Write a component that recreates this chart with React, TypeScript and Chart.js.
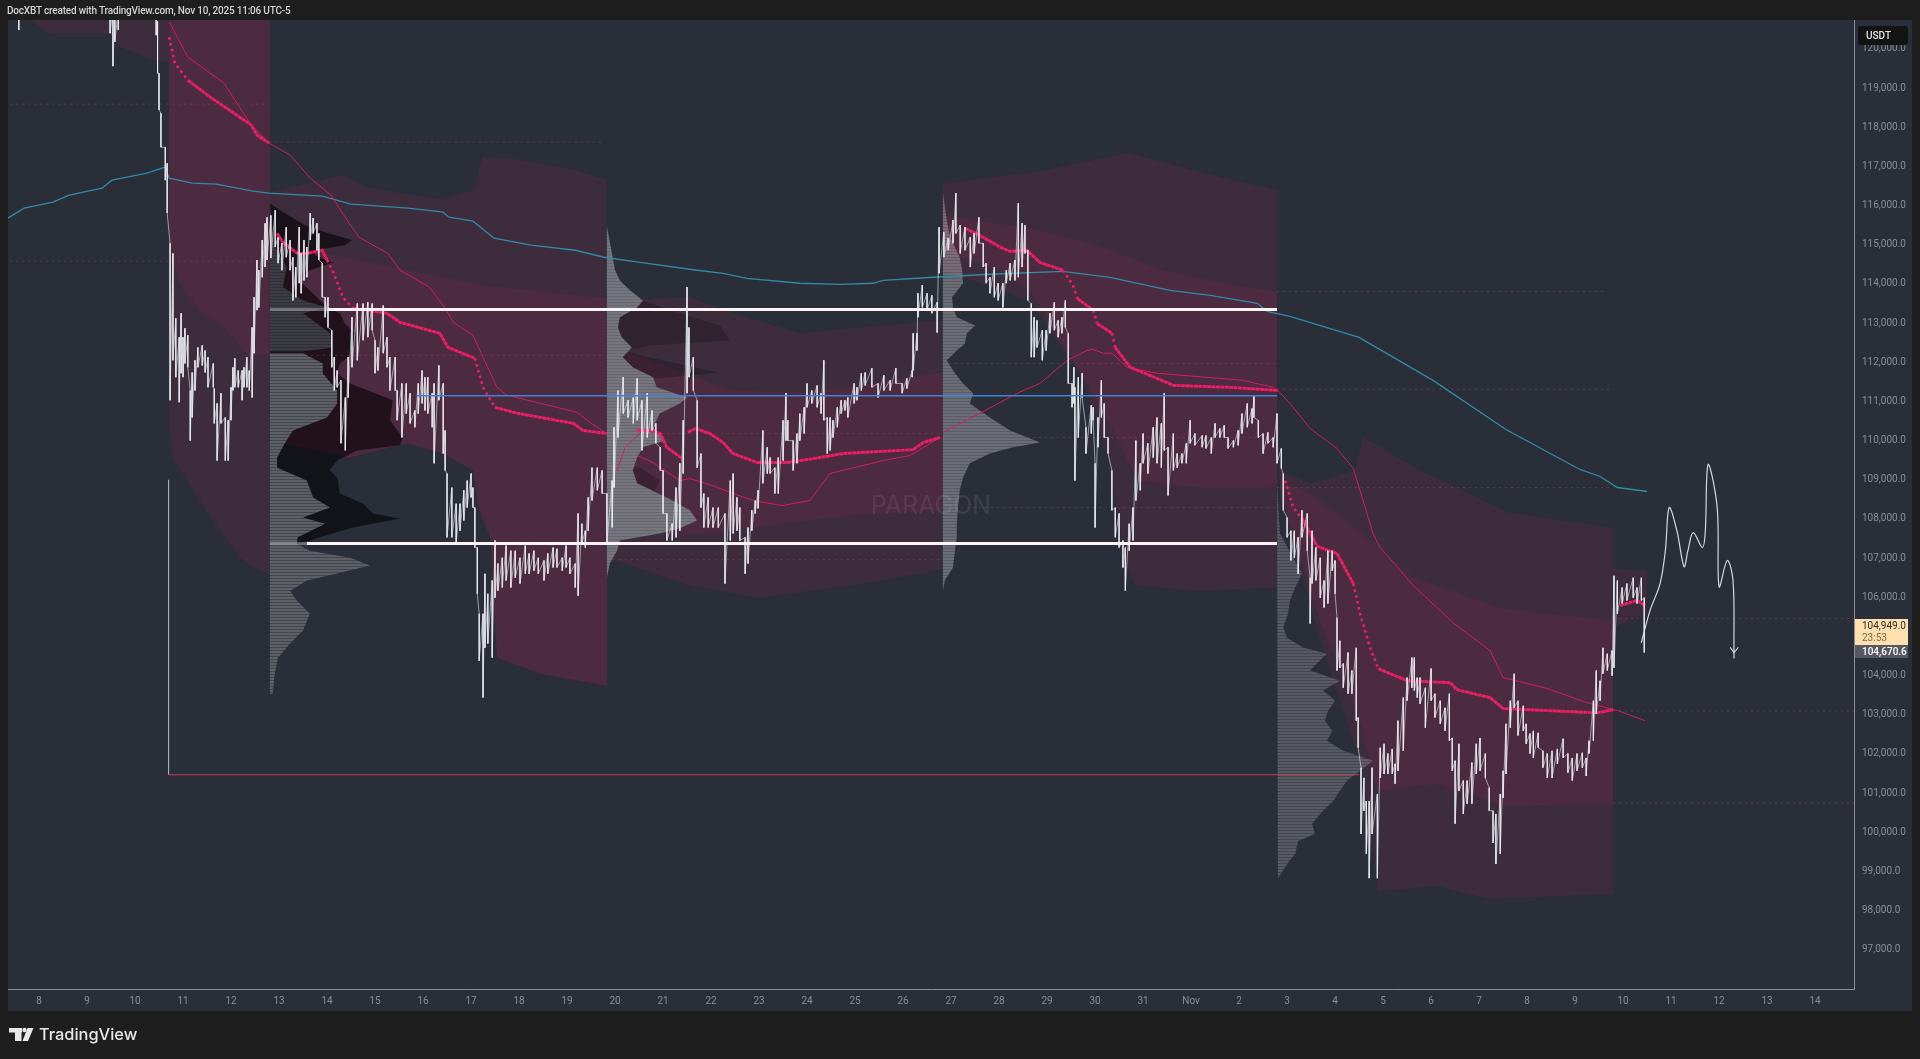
import { useEffect, useRef } from 'react';
import { Chart, registerables } from 'chart.js';

Chart.register(...registerables);

type P = number[];

// ---- axes ----
const xMin = 7.354;
const xMax = 45.81;
const yMin = 96000;
const yMax = 120738;
const lastDayOfOctober = 31;
const xTicks = [8,9,10,11,12,13,14,15,16,17,18,19,20,21,22,23,24,25,26,27,28,29,30,31,32,33,34,35,36,37,38,39,40,41,42,43,44,45];
const yTicks = [97000,98000,99000,100000,101000,102000,103000,104000,105000,106000,107000,108000,109000,110000,111000,112000,113000,114000,115000,116000,117000,118000,119000,120000];

// ---- price: [day, high, low] ----
const priceBars: number[][] = [
[7.58,121000,120480],[9.48,121000,120400],[9.54,121000,119560],[9.58,121000,120180],[9.65,121000,120480],
[10.44,121000,120350],[10.47,120700,119380],[10.50,119380,118440],[10.54,118360,117490],[10.63,117490,116650],[10.67,117080,115810],
[10.73,115040,111030],[10.79,114780,112050],[10.85,113120,111620],[10.92,112640,110980],[10.96,113250,111720],[11.00,112640,111620],[11.04,112870,111970],[11.10,112690,111870],[11.15,111280,110000],[11.19,111740,110590],
[11.25,112050,111280],[11.31,112380,111870],[11.40,112430,111920],[11.46,112300,111740],[11.52,112130,111360],[11.63,111970,111360],[11.65,111330,110440],[11.71,110950,109490],[11.79,111210,110440],[11.88,110590,109490],
[11.94,110520,109490],[12.00,111360,110520],[12.04,111870,111280],[12.08,112100,111360],[12.15,111790,111360],[12.23,111790,111030],[12.27,111870,111360],[12.33,112130,111360],[12.38,111790,111280],[12.44,112890,111100],
[12.48,113660,112230],[12.54,114610,113330],[12.58,114350,113400],[12.65,115120,114170],[12.71,115550,114430],[12.75,115700,114610],[12.83,115750,114660],[12.92,115880,114940],[12.98,115190,114530],[13.06,115040,114350],
[13.15,115450,114680],[13.23,115120,114350],[13.29,114680,113580],[13.35,114430,113660],[13.42,115450,114020],[13.46,114780,113760],[13.52,115120,114090],[13.58,114940,114170],[13.65,115810,115120],[13.71,115680,115290],
[13.79,115550,114860],[13.83,115290,114610],[13.90,114530,113660],[13.96,113660,113150],[14.02,113660,112890],[14.10,112820,111870],[14.15,112130,111280],[14.21,111790,111360],[14.29,111540,109930],[14.38,111100,109750],
[14.44,112130,111100],[14.52,113150,111870],[14.63,113500,112050],[14.75,113500,112560],[14.85,113530,112640],[14.94,113500,112820],[15.00,112560,111720],[15.06,112380,111790],[15.17,113450,112230],[15.25,112640,111870],
[15.31,112130,111280],[15.42,112130,111280],[15.46,111280,110520],[15.56,111460,110080],[15.65,111460,110690],[15.73,111210,110440],[15.83,110770,110340],[15.90,111460,110690],[15.98,111790,110950],[16.04,111620,110770],
[16.10,111620,110690],[16.19,111210,110340],[16.23,111460,109420],[16.33,111920,111030],[16.42,111460,109670],[16.46,110260,109240],[16.50,109160,107530],[16.60,108800,107530],[16.69,108390,107370],[16.77,108390,107700],
[16.85,108730,107960],[16.92,108980,108290],[17.00,109160,108550],[17.04,108800,108290],[17.08,108290,107270],[17.13,107270,106090],[17.17,105580,104380],[17.25,105580,103440],[17.29,106600,104710],[17.35,106090,104820],
[17.44,106430,104460],[17.50,107450,105990],[17.56,106860,106170],[17.65,107010,106250],[17.73,107320,106430],[17.83,107190,106250],[17.92,107190,106500],[18.02,107010,106350],[18.13,107320,106600],[18.21,107120,106600],
[18.31,107190,106680],[18.40,107010,106600],[18.52,106940,106430],[18.60,107120,106600],[18.71,107270,106760],[18.79,107240,106760],[18.90,107010,106680],[18.98,107320,106760],[19.06,107010,106600],[19.17,106860,106250],
[19.23,108140,106040],[19.31,107880,107370],[19.38,107700,107270],[19.44,108550,107700],[19.52,109310,108470],[19.63,109310,108730],[19.73,109240,108650],[19.83,108650,107370],[19.94,108980,107780],[19.98,110340,108800],
[20.06,111280,110080],[20.17,111620,110690],[20.27,111030,110590],[20.38,111100,110440],[20.46,111590,110520],[20.56,111030,109750],[20.67,111210,110080],[20.77,110770,110260],[20.85,110440,109930],[20.94,109830,109240],
[21.00,109240,108140],[21.08,108140,107450],[21.19,107880,107450],[21.27,108800,107530],[21.35,109420,107700],[21.42,110520,109160],[21.50,113920,111210],[21.54,112890,111620],[21.63,112130,111280],[21.71,111030,109310],
[21.79,109670,108290],[21.85,108650,107780],[21.94,108550,107780],[22.04,108290,107780],[22.15,108290,107780],[22.29,108140,106350],[22.40,108980,107450],[22.46,109160,107630],[22.54,108550,107700],[22.60,108290,107450],
[22.71,107530,106600],[22.77,107780,106860],[22.85,108220,107700],[22.92,108470,108140],[22.98,108730,108270],[23.08,110260,108910],[23.17,109830,109160],[23.23,109570,109160],[23.33,109310,108650],[23.40,109570,108650],
[23.50,110520,109490],[23.56,111210,110000],[23.60,110520,110000],[23.71,110000,109240],[23.79,110180,109420],[23.85,110690,110000],[23.94,110850,110180],[24.00,111460,110850],[24.10,111280,110950],[24.21,111410,110850],
[24.29,111210,110690],[24.35,112050,110520],[24.42,110590,109670],[24.48,110590,109750],[24.54,110520,110080],[24.63,110850,110340],[24.71,111030,110690],[24.79,111030,110770],[24.85,111100,110590],[24.98,111460,110950],
[25.04,111360,111030],[25.13,111720,111280],[25.21,111740,111410],[25.35,111850,111360],[25.48,111460,111100],[25.60,111670,111280],[25.73,111540,111280],[25.85,111850,111460],[25.98,111460,111210],[26.08,111590,111330],
[26.19,111790,111620],[26.21,112740,111790],[26.29,112740,112300],[26.31,113760,113150],[26.40,113970,113400],[26.50,113760,113330],[26.60,113710,113250],[26.71,113530,112760],[26.75,115450,114270],[26.85,115320,114680],
[26.94,115170,114860],[27.04,115630,115040],[27.10,116320,115290],[27.19,115500,114780],[27.29,115450,114860],[27.40,115190,114430],[27.48,115290,114780],[27.58,115700,115040],[27.67,115040,114430],[27.73,114530,114020],
[27.81,114170,113760],[27.90,114430,113660],[27.98,114020,113580],[28.08,114020,113400],[28.15,114350,114020],[28.23,114530,114090],[28.33,114610,114090],[28.40,116060,114170],[28.48,115550,114430],[28.54,115500,114780],
[28.60,114860,113580],[28.67,113500,112130],[28.73,113150,112130],[28.79,113070,112380],[28.90,112820,112050],[28.98,112820,112300],[29.06,113250,112740],[29.15,113530,112820],[29.23,113070,112640],[29.31,113150,112740],
[29.38,113580,112890],[29.44,112740,111460],[29.52,111460,110850],[29.56,111870,110950],[29.58,111360,108980],[29.65,111620,110080],[29.73,111720,111100],[29.81,110340,109670],[29.92,110900,110180],[29.96,110850,110520],
[30.00,109420,107780],[30.06,110590,109830],[30.13,111540,110590],[30.19,110950,110080],[30.27,110080,109670],[30.35,109240,108220],[30.42,108290,107530],[30.50,108140,107270],[30.58,107450,106760],[30.63,107270,106170],
[30.71,107880,107190],[30.79,108290,107450],[30.85,110000,108470],[30.94,109420,108730],[31.00,110180,109420],[31.10,109930,109160],[31.21,110340,109570],[31.29,110590,109420],[31.38,110440,109310],[31.44,111210,109750],
[31.52,109830,108600],[31.63,110180,109240],[31.71,109670,109310],[31.81,109670,109420],[31.90,109930,109420],[31.98,110520,109930],[32.08,110180,109880],[32.23,110130,109830],[32.31,110130,109800],[32.42,110080,109670],
[32.50,110440,110080],[32.60,110310,110080],[32.69,110390,110080],[32.77,110080,109800],[32.88,110000,109830],[32.98,110260,109880],[33.06,110690,110180],[33.17,110950,110340],[33.27,110820,110440],[33.31,111160,110590],
[33.40,110520,110080],[33.50,110180,109670],[33.60,110210,109930],[33.71,110080,109830],[33.79,110690,109420],[33.88,109800,109290],[33.92,109160,108220],[34.00,108040,107530],[34.08,107700,106940],[34.15,107700,107010],
[34.23,107530,106600],[34.31,108220,107530],[34.42,108140,107190],[34.48,106500,105330],[34.52,107700,106350],[34.60,107270,106430],[34.69,107010,105990],[34.77,106430,105740],[34.85,107190,105840],[34.94,107190,106680],
[35.00,106940,106090],[35.04,105480,104130],[35.10,104890,104200],[35.17,104310,103690],[35.27,104590,103540],[35.35,104130,103540],[35.44,104710,102850],[35.48,102930,102160],[35.54,101650,99960],[35.60,101390,100550],
[35.65,100800,99450],[35.71,100800,98830],[35.77,101650,99960],[35.88,100980,98830],[35.94,102160,101390],[36.02,102260,101490],[36.10,102010,101490],[36.19,102130,101490],[36.25,101750,101240],[36.31,102850,101570],
[36.42,103440,102080],[36.50,103950,103360],[36.60,104460,103690],[36.65,104460,103620],[36.71,103950,103440],[36.77,103950,103280],[36.88,103690,102670],[37.00,104180,103360],[37.08,103540,102930],[37.19,103360,102770],
[37.29,103180,102590],[37.38,103540,102340],[37.44,102410,101570],[37.50,101830,100220],[37.58,102260,101060],[37.67,101320,100470],[37.75,101320,100730],[37.85,101780,100730],[37.94,102260,101490],[38.02,102410,101570],
[38.13,102010,101390],[38.21,101140,100550],[38.29,100550,99730],[38.35,100470,99190],[38.44,100980,99450],[38.50,101570,100880],[38.56,102770,101490],[38.65,103360,102670],[38.73,104050,103180],[38.81,103360,102470],
[38.92,103230,102590],[38.98,102770,102260],[39.06,102520,102010],[39.13,102590,101900],[39.23,102540,102160],[39.33,102080,101650],[39.42,102010,101390],[39.52,102080,101390],[39.63,102130,101750],[39.75,102390,101900],
[39.85,102010,101520],[39.94,101900,101320],[40.04,102010,101570],[40.15,102030,101650],[40.23,101900,101440],[40.29,102340,102010],[40.38,103360,102340],[40.44,104130,103030],[40.52,103870,103360],[40.58,104710,104050],
[40.67,104560,104130],[40.77,104640,104000],[40.81,106550,104200],[40.88,106430,105580],[40.98,106250,105840],[41.08,106350,105920],[41.21,106500,105990],[41.29,106250,105840],[41.38,106500,105920],[41.44,105990,104590],
];

// ---- blue anchored VWAP ----
const vwapBlue: P[] = [[7.35,115678],[7.69,115933],[8.29,116087],[8.63,116266],[9.31,116444],[9.52,116649],[10.25,116828],[10.63,116981],[10.71,116700],[11.19,116572],[11.69,116547],[12.46,116368],[12.79,116317],[13.90,116240],[14.50,116036],[15.69,115933],[16.42,115831],[16.54,115703],[17.04,115601],[17.48,115167],[18.25,114988],[19.17,114860],[19.77,114681],[20.52,114553],[21.71,114349],[22.25,114272],[22.75,114144],[23.85,114017],[24.69,113991],[25.38,114017],[25.58,114093],[26.63,114170],[27.81,114247],[29.33,114323],[30.31,114170],[31.56,113838],[32.40,113710],[33.38,113505],[33.58,113301],[34.06,113173],[35.50,112637],[37.04,111538],[38.56,110285],[40.10,109263],[40.52,109084],[40.88,108803],[41.50,108701]];

// ---- thick pink VWAP segments ----
const thickPink: P[][] = [
[[11.10,119200],[11.60,118740],[12.42,118060],[12.54,117800],[12.79,117600]],
[[12.96,115290],[13.08,115060],[13.38,114780],[13.58,114780],[13.90,114860],[14.00,114610]],
[[14.54,113380],[15.25,113250],[15.52,113020],[16.35,112740],[16.52,112380],[17.08,112100]],
[[17.50,110850],[17.96,110700],[19.13,110440],[19.33,110260],[19.83,110180]],
[[20.46,110260],[20.73,110260],[20.94,110180],[21.08,109830],[21.40,109540]],
[[21.52,110210],[21.67,110310],[21.98,110180],[22.25,109950],[22.46,109670],[22.96,109440],[23.58,109440],[24.13,109540],[24.75,109670],[26.21,109770],[26.42,109950],[26.77,110080]],
[[27.29,115420],[27.60,115240],[28.02,114940],[28.23,114830],[28.58,114860],[28.85,114550],[29.33,114350]],
[[29.63,113630],[29.96,113330]],
[[30.04,112990],[30.35,112740]],
[[30.42,112380],[30.73,111870],[31.29,111590],[31.63,111410],[32.81,111360],[33.81,111280]],
[[34.31,108010],[34.63,107300],[35.04,107120],[35.38,106350]],
[[35.90,104180],[36.50,103870],[37.40,103820],[37.54,103640],[38.23,103440],[38.50,103160],[40.46,103050],[40.79,103130]],
[[40.94,105790],[41.29,105920],[41.46,105790]],
];
// stretches where the thick line breaks up into separate dots
const sparsePink: P[][] = [
[[10.71,120300],[10.83,119640],[11.10,119200]],
[[14.00,114610],[14.13,114300],[14.33,113660],[14.54,113380]],
[[17.08,112100],[17.25,111360],[17.50,110850]],
[[29.33,114350],[29.54,113970],[29.63,113630]],
[[29.96,113330],[30.04,112990]],
[[30.35,112740],[30.42,112380]],
[[33.96,108980],[34.13,108290],[34.31,108010]],
[[35.38,106350],[35.52,105580],[35.73,104710],[35.90,104180]],
];

// ---- thin pink VWAP segments ----
const thinPink: P[][] = [
[[10.71,120690],[11.10,119790],[11.85,119130],[12.42,118060],[12.79,117600],[13.23,117290],[13.65,116700],[14.08,116270],[14.46,115550],[14.67,115190],[15.27,114780],[15.52,114350],[16.13,113920],[16.46,113380],[16.63,113020],[17.04,112690],[17.54,111360],[17.75,111160],[18.79,110850],[19.21,110720],[19.48,110460],[19.83,110180]],
[[20.04,109240],[20.21,109830],[20.58,110260]],
[[20.46,109620],[20.79,109440],[21.35,108980],[21.56,109030],[22.04,108850],[22.46,108650],[22.88,108470],[23.48,108340],[24.06,108470],[24.48,109160],[25.58,109490],[26.15,109620],[26.77,110080]],
[[26.83,110210],[27.60,110700],[28.38,111210],[28.85,111460],[29.42,112050],[29.83,112300],[29.96,112330],[30.17,112230],[30.35,112230],[30.67,111870],[31.29,111720],[33.08,111540],[33.71,111360],[33.81,111280],[34.06,110950],[34.48,110310],[35.04,109800],[35.38,109290],[35.79,107630],[35.94,107270],[36.63,106300],[37.46,105350],[38.23,104640],[38.50,103950],[39.42,103670],[40.25,103310],[40.88,103110],[41.46,102850]],
];

// ---- anchored VWAP bands: {top, bottom} ----
const overChart = 122000;
const outerBands: { top: P[]; bottom: P[] }[] = [
  { top: [[7.81,overChart],[10.71,overChart]], bottom: [[7.81,120740],[8.23,120400],[9.48,120400],[9.69,120050],[10.42,119720],[10.71,119660]] },
  { top: [[10.71,overChart],[12.81,overChart]], bottom: [[10.71,110260],[10.79,109570],[11.21,108730],[11.63,107960],[12.19,107020],[12.46,106760],[12.81,106610]] },
  { top: [[12.81,116340],[14.33,116780],[14.83,116470],[15.77,116270],[16.46,116140],[16.54,116210],[17.08,116390],[17.23,117240],[17.81,117210],[19.17,116910],[19.83,116650]], bottom: [[12.81,110000],[14.48,109570],[15.67,109930],[16.42,109670],[17.04,109240],[17.15,108290],[17.40,107530],[17.54,104460],[18.44,104050],[19.83,103740]] },
  { top: [[19.83,113580],[21.56,113660],[22.46,113250],[23.85,112740],[25.10,112890],[26.83,113070]], bottom: [[19.83,107020],[21.56,106300],[23.00,105990],[24.90,106300],[26.83,106710]] },
  { top: [[26.83,116550],[28.88,116880],[30.67,117340],[32.71,116700],[33.79,116390]], bottom: [[26.83,114350],[28.65,113580],[29.75,111540],[30.31,109420],[30.63,106940],[30.83,106300],[32.13,106170],[33.79,106250]] },
  { top: [[33.85,109240],[34.48,108900],[35.42,109240],[35.58,110080],[36.77,109240],[37.46,108850],[38.58,108170],[40.79,107760]], bottom: [[33.85,108600],[34.69,104890],[35.52,101830],[35.77,100040],[35.88,98500],[37.13,98630],[38.23,98300],[40.79,98430]] },
  { top: [[40.79,106730],[41.50,106680]], bottom: [[40.79,105230],[41.50,105580]] },
];
const innerBands: { top: P[]; bottom: P[] }[] = [
  { top: [[10.71,overChart],[12.81,overChart]], bottom: [[10.71,114730],[10.94,114020],[11.35,113330],[11.92,112820],[12.40,112130],[12.81,112230]] },
  { top: [[12.81,115120],[13.98,114780],[15.69,114350],[17.23,113970],[19.83,113630]], bottom: [[12.81,110000],[14.48,109570],[15.67,109930],[16.42,109670],[17.04,109240],[17.15,108290],[17.40,107530],[17.54,104460],[18.44,104050],[19.83,103740]] },
  { top: [[19.83,112430],[20.73,112050],[21.56,111670],[22.46,111280],[23.85,111230],[25.10,111410],[25.94,111590],[26.83,111740]], bottom: [[19.83,107960],[21.35,107580],[22.88,107780],[24.90,108090],[26.83,108220]] },
  { top: [[26.83,115750],[28.65,115420],[30.04,114990],[31.42,114350],[32.60,114040],[33.79,113790]], bottom: [[26.83,114860],[28.02,114350],[28.65,113840],[29.75,111620],[30.38,110260],[30.88,108980],[32.33,108780],[33.79,108800]] },
  { top: [[33.85,108980],[34.48,108650],[35.31,107880],[36.63,106500],[38.50,105710],[40.79,105400]], bottom: [[33.85,108730],[34.69,105400],[35.52,102850],[35.88,101060],[37.13,101240],[38.50,100680],[40.79,100730]] },
];

// ---- volume profiles: [price, width in days] ----
const profileStarts = [12.81, 19.83, 26.83, 33.79];
const profile1Upper: P[] = [[116060,0],[114940,.10],[114430,.35],[113920,.27],[113580,.69],[113400,1.19],[113250,.69],[112990,.98],[112740,1.25],[112380,1.31],[112280,.69]];
const profile1Lower: P[] = [[112230,.69],[111970,1.10],[111720,1.10],[111280,1.40],[110950,1.40],[110590,1.19],[110260,.48],[109930,.31],[109570,.15],[109310,.15],[108980,.77],[108550,.90],[108290,1.25],[108040,.69],[107880,1.15],[107530,.58],[107370,.56],[107190,.83],[107010,1.67],[106810,2.08],[106610,1.40],[106430,.77],[106170,.42],[105920,.56],[105580,.83],[105150,.69],[104820,.42],[104460,.17],[104050,.10],[103540,.06]];
const profile1Dark: P[] = [[116060,0],[115880,.21],[115500,.73],[115320,1.15],[115120,1.71],[114990,1.56],[114860,.94],[114730,.94],[114550,1.31],[114350,.83],[114090,.60],[113840,.83],[113400,1.19],[113250,1.46],[112990,1.56],[112740,1.77],[112430,1.75],[112180,1.67],[111970,1.46],[111720,1.40],[111460,1.67],[111030,2.56],[110520,2.50],[110080,2.77],[109880,2.71],[109750,1.81],[109490,1.40],[109240,1.25],[109060,1.40],[108650,1.46],[108390,1.94],[108140,2.15],[108010,2.71],[107780,1.73],[107530,1.04],[107370,.63]];
const profile2: P[] = [[115470,0],[114350,.17],[114090,.27],[113840,.48],[113580,.75],[113400,.63],[113150,.27],[112890,.23],[112640,.31],[112380,.52],[112130,.33],[111870,.54],[111620,.96],[111360,1.04],[111100,1.67],[110950,1.52],[110690,1.10],[110340,.96],[110000,1.21],[109830,.75],[109570,.63],[109240,.54],[108910,.63],[108550,1.25],[108220,1.73],[107960,1.88],[107760,1.52],[107630,1.10],[107450,.27],[107190,.21],[106860,.06],[106500,0]];
const profile2DarkUpper: P[] = [[113580,.75],[113250,1.52],[112940,2.35],[112560,2.56],[112430,.90],[112300,.38],[112180,.69],[111920,1.63],[111740,2.35],[111590,1.10]];
const profile2DarkLower: P[] = [[109310,.69],[108980,1.10],[108730,1.00],[108470,1.25]];
const profile3: P[] = [[116340,0],[115630,.08],[115190,.15],[114680,.35],[114350,.40],[114020,.42],[113660,.19],[113400,.21],[113150,.29],[112940,.67],[112740,.50],[112480,.46],[112300,.29],[112050,.08],[111720,.25],[111460,.42],[111210,.63],[110950,.56],[110590,.98],[110260,1.40],[109950,2.02],[109830,1.46],[109670,.98],[109420,.56],[109060,.42],[108730,.35],[108220,.31],[107880,.29],[107530,.29],[107190,.25],[106760,.21],[106430,.04],[106170,0]];
const profile4: P[] = [[108900,0],[107630,.06],[106610,.52],[106250,.38],[105920,.27],[105580,.23],[105230,.13],[104970,.21],[104720,.54],[104560,1.04],[104310,.83],[104130,.69],[103870,1.31],[103620,.96],[103360,1.21],[103100,1.06],[102850,1.00],[102590,1.15],[102340,1.04],[102080,1.38],[101830,2.00],[101570,1.73],[101320,1.46],[101060,1.31],[100800,1.17],[100550,.96],[100220,.73],[99960,.79],[99780,.44],[99450,.38],[99190,.21],[98830,.02]];

// ---- horizontal levels: [price, startDay, endDay] ----
const whiteLevels: P[] = [[113350,14.02,33.79],[107373,13.58,33.79]];
const pocLevels: P[] = [[113350,12.81,14.02],[107373,12.81,13.58]];
const blueLevels: P[] = [[111147,15.875,33.79]];
const redLevels: P[] = [[101470,10.69,35.5]];
const anchorLine: P[] = [[10.70,101470],[10.70,109000]];
const dottedLevels: P[] = [
  [118590,7.40,12.79],[114580,7.40,12.79],[117620,12.79,19.77],[112180,12.79,19.77],[110180,19.83,26.77],[106960,19.83,26.77],
  [111970,26.83,33.79],[108290,26.83,33.79],[110080,26.83,33.79],[113810,33.79,40.6],[111310,33.79,40.8],[108800,33.79,40.8],
  [105455,40.79,45.81],[103100,40.79,45.81],[100750,40.79,45.81],
];

// ---- forecast drawing ----
const forecastPath: P[] = [[41.38,104840],[41.56,105660],[41.77,106350],[41.88,107190],[41.96,108290],[42.12,107700],[42.27,106780],[42.35,107190],[42.46,107650],[42.65,107270],[42.71,107630],[42.77,109390],[42.96,108290],[43.00,106270],[43.17,106940],[43.29,106430],[43.31,104640],[43.31,104440]];
const forecastHead: P[] = [[43.23,104720],[43.31,104590],[43.40,104720]];

// ---- text ----
const titleText = 'DocXBT created with TradingView.com, Nov 10, 2025 11:06 UTC-5';
const watermarkText = 'PARAGON';
const brandText = 'TradingView';
const currencyText = 'USDT';
const lastPriceLabel = '104,949.0';
const countdownLabel = '23:53';
const markPriceLabel = '104,670.6';
const lastPriceTagLevel = 105455;

const pts = (list: P[]) => list.map(([x, y]) => ({ x, y }));

function stripes(a: string, b: string): CanvasPattern | string {
  const c = document.createElement('canvas');
  c.width = 1;
  c.height = 3;
  const g = c.getContext('2d');
  if (!g) return a;
  g.fillStyle = a;
  g.fillRect(0, 0, 1, 2);
  g.fillStyle = b;
  g.fillRect(0, 2, 1, 1);
  return g.createPattern(c, 'repeat') ?? a;
}

export default function App() {
  const ref = useRef<HTMLCanvasElement | null>(null);

  useEffect(() => {
    document.body.style.margin = '0';
    document.body.style.background = '#1e1e1e';
    if (!ref.current) return;

    const datasets: any[] = [];
    const area = (points: P[], color: any) =>
      datasets.push({
        type: 'line',
        data: pts(points),
        fill: 'shape',
        backgroundColor: color,
        borderColor: 'transparent',
        borderWidth: 0,
        pointRadius: 0,
        tension: 0,
      });
    const stroke = (points: P[], color: string, width: number, extra: any = {}) =>
      datasets.push({
        type: 'line',
        data: pts(points),
        fill: false,
        borderColor: color,
        borderWidth: width,
        pointRadius: 0,
        tension: 0,
        borderCapStyle: 'butt',
        ...extra,
      });
    const band = (b: { top: P[]; bottom: P[] }) => [...b.top, ...[...b.bottom].reverse()];
    const bandColor = 'rgba(233,30,99,0.095)';
    outerBands.forEach((b) => area(band(b), bandColor));
    innerBands.forEach((b) => area(band(b), bandColor));

    // volume profiles as closed shapes anchored on each start day
    const at = (start: number, rows: P[]) => rows.map(([price, w]) => [start + w, price]);
    const body = (start: number, rows: P[]) => [
      [start, rows[0][0]],
      ...at(start, rows),
      [start, rows[rows.length - 1][0]],
    ];
    area(body(profileStarts[0], profile1Dark), 'rgba(0,0,0,0.58)');
    area(body(profileStarts[1], profile2DarkUpper), 'rgba(0,0,0,0.2)');
    area(body(profileStarts[1], profile2DarkLower), 'rgba(0,0,0,0.2)');
    area(body(profileStarts[0], profile1Upper), stripes('#3b3c44', '#2e2f37'));
    area(body(profileStarts[0], profile1Lower), stripes('#5d5f67', '#45474f'));
    area(body(profileStarts[1], profile2), stripes('rgba(124,126,134,0.9)', 'rgba(108,110,118,0.9)'));
    area(body(profileStarts[2], profile3), stripes('rgba(255,255,255,0.30)', 'rgba(255,255,255,0.22)'));
    area(body(profileStarts[3], profile4), stripes('rgba(255,255,255,0.21)', 'rgba(255,255,255,0.12)'));

    dottedLevels.forEach(([price, a, b]) =>
      stroke([[a, price], [b, price]], 'rgba(190,70,105,0.38)', 1, { borderDash: [2, 4] }),
    );

    stroke(anchorLine, 'rgba(210,214,222,0.85)', 1);
    redLevels.forEach(([price, a, b]) => stroke([[a, price], [b, price]], 'rgba(214,64,92,0.85)', 1));
    pocLevels.forEach(([price, a, b]) => stroke([[a, price], [b, price]], 'rgba(190,190,198,0.45)', 3));

    stroke(vwapBlue, '#3488a8', 1.3);
    thinPink.forEach((s) => stroke(s, '#cf1d5e', 1));
    thickPink.forEach((s) => stroke(s, '#ec1e65', 2.9, { borderDash: [4, 0.4] }));
    sparsePink.forEach((s) => stroke(s, '#ec1e65', 2.6, { borderDash: [2.6, 3.4] }));

    // price: connecting wiggle plus high-low bars, broken where the chart has no bars between
    const wiggle: (number | null)[][] = [];
    priceBars.forEach(([d, hi, lo], i) => {
      if (i > 0 && d - priceBars[i - 1][0] > 0.5) wiggle.push([d, null]);
      wiggle.push([d, hi], [d, lo]);
    });
    stroke(wiggle as P[], 'rgba(225,228,235,0.68)', 0.9);
    datasets.push({
      type: 'bar',
      data: priceBars.map(([x, hi, lo]) => ({ x, y: [lo, hi] })),
      backgroundColor: 'rgba(240,242,246,0.92)',
      barThickness: 1,
      inflateAmount: 0,
      borderWidth: 0,
      borderSkipped: false,
      grouped: false,
    });

    whiteLevels.forEach(([price, a, b]) => stroke([[a, price], [b, price]], '#fdf4f7', 3));
    blueLevels.forEach(([price, a, b]) => stroke([[a, price], [b, price]], '#3f82d8', 1.5));

    stroke(forecastPath, 'rgba(222,226,234,0.95)', 1.2, { tension: 0.35 });
    stroke(forecastHead, 'rgba(222,226,234,0.95)', 1.1);

    // later datasets draw on top
    datasets.forEach((d, i) => (d.order = datasets.length - i));

    const chrome = {
      id: 'chrome',
      beforeDraw(chart: any) {
        const { ctx, chartArea: a, scales } = chart;
        ctx.save();
        ctx.fillStyle = '#1e1e1e';
        ctx.fillRect(0, 0, chart.width, chart.height);
        ctx.fillStyle = '#2a2e39';
        ctx.fillRect(a.left, a.top, scales.y.right - a.left, scales.x.bottom - a.top);
        ctx.restore();
      },
      beforeDatasetsDraw(chart: any) {
        const { ctx, scales } = chart;
        ctx.save();
        ctx.fillStyle = 'rgba(255,255,255,0.085)';
        ctx.font = '400 25px Inter';
        ctx.textAlign = 'center';
        ctx.textBaseline = 'middle';
        ctx.fillText(watermarkText, scales.x.getPixelForValue(26.58), scales.y.getPixelForValue(108330));
        ctx.restore();
      },
      afterDraw(chart: any) {
        const { ctx, scales } = chart;
        const left = scales.y.left + 1;
        ctx.save();
        ctx.textBaseline = 'middle';
        ctx.textAlign = 'left';
        // title
        ctx.fillStyle = '#d4d4d4';
        ctx.font = '500 10px Roboto';
        (ctx as any).letterSpacing = '-0.2px';
        ctx.fillText(titleText, 7, 11);
        (ctx as any).letterSpacing = '0px';
        // currency badge
        ctx.fillStyle = '#131313';
        ctx.beginPath();
        ctx.roundRect(left + 3, 26, 50, 19, 3);
        ctx.fill();
        ctx.fillStyle = '#e4e4e4';
        ctx.font = '500 10px Roboto';
        ctx.fillText(currencyText, left + 11, 36);
        // last price tags
        const tagTop = Math.round(scales.y.getPixelForValue(lastPriceTagLevel));
        ctx.fillStyle = '#fde0ae';
        ctx.fillRect(left, tagTop, 53, 26);
        ctx.fillStyle = '#555860';
        ctx.fillRect(left, tagTop + 26, 53, 13);
        ctx.font = '400 10px Roboto';
        ctx.fillStyle = '#2b2b2b';
        ctx.fillText(lastPriceLabel, left + 7, tagTop + 7);
        ctx.fillStyle = '#7a6a4a';
        ctx.fillText(countdownLabel, left + 7, tagTop + 19);
        ctx.fillStyle = '#ffffff';
        ctx.font = '500 10px Roboto';
        ctx.fillText(markPriceLabel, left + 7, tagTop + 33);
        // brand
        ctx.fillStyle = '#e8e8e8';
        ctx.fillRect(9, 1028, 13, 4.5);
        ctx.fillRect(15, 1028, 6.5, 13);
        ctx.beginPath();
        ctx.arc(24.5, 1030, 2.2, 0, Math.PI * 2);
        ctx.fill();
        ctx.beginPath();
        ctx.moveTo(27.5, 1028);
        ctx.lineTo(33.5, 1028);
        ctx.lineTo(28, 1041);
        ctx.lineTo(22.5, 1041);
        ctx.closePath();
        ctx.fill();
        ctx.font = '500 16.4px Inter';
        ctx.fillText(brandText, 39, 1035);
        ctx.restore();
      },
    };

    const axisColor = '#8a8e99';
    const chart = new Chart(ref.current, {
      data: { datasets },
      plugins: [chrome],
      options: {
        responsive: false,
        animation: false,
        events: [],
        spanGaps: false,
        layout: { autoPadding: false, padding: { left: 8, top: 20, right: 8, bottom: 48 } },
        plugins: { legend: { display: false }, tooltip: { enabled: false } },
        scales: {
          x: {
            type: 'linear',
            offset: false,
            min: xMin,
            max: xMax,
            grid: { display: false, drawTicks: false },
            border: { display: true, color: '#8c8f99', width: 1 },
            afterBuildTicks: (s: any) => {
              s.ticks = xTicks.map((value) => ({ value }));
            },
            ticks: {
              autoSkip: false,
              maxRotation: 0,
              padding: 6,
              color: axisColor,
              font: { family: 'Roboto', size: 10 },
              callback: (v: any) =>
                v === lastDayOfOctober + 1 ? 'Nov' : String(v <= lastDayOfOctober ? v : v - lastDayOfOctober),
            },
            afterFit: (s: any) => {
              s.height = 22;
            },
          },
          y: {
            type: 'linear',
            position: 'right',
            min: yMin,
            max: yMax,
            grid: { display: false, drawTicks: false },
            border: { display: true, color: '#8c8f99', width: 1 },
            afterBuildTicks: (s: any) => {
              s.ticks = yTicks.map((value) => ({ value }));
            },
            ticks: {
              autoSkip: false,
              padding: 8,
              color: axisColor,
              font: { family: 'Roboto', size: 10 },
              callback: (v: any) =>
                Number(v).toLocaleString('en-US', { minimumFractionDigits: 1, maximumFractionDigits: 1 }),
            },
            afterFit: (s: any) => {
              s.width = 58;
            },
          },
        },
      } as any,
    } as any);

    return () => chart.destroy();
  }, []);

  return <canvas ref={ref} width={1920} height={1059} style={{ display: 'block' }} />;
}
